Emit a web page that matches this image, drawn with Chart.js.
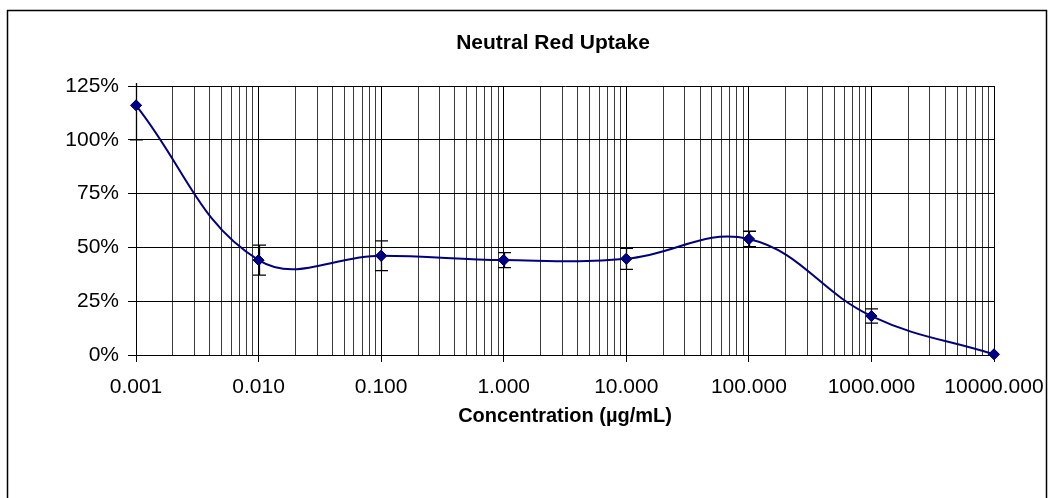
<!DOCTYPE html>
<html>
<head>
<meta charset="utf-8">
<script src="https://cdn.jsdelivr.net/npm/chart.js@4.4.0/dist/chart.umd.min.js"></script>
<style>
  body { margin: 0; background: #ffffff; }
  #wrap { width: 1050px; height: 498px; }
</style>
</head>
<body>
<div id="wrap"><canvas id="nru_chart" width="1050" height="498"></canvas></div>
<script>
// chart data
var chart_title = "Neutral Red Uptake";
var x_axis_title = "Concentration (\u00b5g/mL)";
var concentrations = [0.001, 0.01, 0.1, 1, 10, 100, 1000, 10000];
var uptake_percent = [116, 44.1, 46.1, 44.1, 44.7, 53.9, 18.1, 0.3];
var error_percent = [16, 7, 6.9, 3.5, 4.9, 3.6, 3.3, 0];
var x_major_ticks = [0.001, 0.01, 0.1, 1, 10, 100, 1000, 10000];
var x_tick_labels = ["0.001", "0.010", "0.100", "1.000", "10.000", "100.000", "1000.000", "10000.000"];
var y_ticks = [0, 25, 50, 75, 100, 125];

var font_family = "Arial, 'Liberation Sans', sans-serif";

function is_major(v) {
  for (var i = 0; i < x_major_ticks.length; i++) {
    if (Math.abs(v - x_major_ticks[i]) / x_major_ticks[i] < 1e-6) return i;
  }
  return -1;
}

// minor grid positions: 2..9 times each decade
function build_x_ticks() {
  var out = [];
  for (var i = 0; i < x_major_ticks.length; i++) {
    out.push({ value: x_major_ticks[i], major: true });
    if (i < x_major_ticks.length - 1) {
      for (var m = 2; m <= 9; m++) out.push({ value: x_major_ticks[i] * m, major: false });
    }
  }
  return out;
}

var point_data = concentrations.map(function (c, i) { return { x: c, y: uptake_percent[i] }; });

// frame + title
var frame_plugin = {
  id: 'frame_plugin',
  beforeDraw: function (chart) {
    var ctx = chart.ctx;
    ctx.save();
    ctx.fillStyle = '#ffffff';
    ctx.fillRect(0, 0, chart.width, chart.height);
    ctx.strokeStyle = '#000000';
    ctx.lineWidth = 1.5;
    ctx.strokeRect(7.5, 10.5, 1039, 520);
    ctx.fillStyle = '#000000';
    ctx.font = "bold 21px " + font_family;
    ctx.textAlign = 'center';
    ctx.textBaseline = 'middle';
    ctx.fillText(chart_title, 553, 43);
    ctx.restore();
  }
};

// error bars drawn through the scales
var error_bar_plugin = {
  id: 'error_bar_plugin',
  afterDatasetsDraw: function (chart) {
    var ctx = chart.ctx;
    var xs = chart.scales.x, ys = chart.scales.y;
    var area = chart.chartArea;
    ctx.save();
    ctx.beginPath();
    ctx.rect(area.left - 20, area.top - 3, area.right - area.left + 40, area.bottom - area.top + 6);
    ctx.clip();
    ctx.strokeStyle = '#000000';
    ctx.lineWidth = 1.3;
    for (var i = 0; i < concentrations.length; i++) {
      if (!error_percent[i]) continue;
      var px = Math.round(xs.getPixelForValue(concentrations[i])) + 0.5;
      var hi = uptake_percent[i] + error_percent[i];
      var lo = uptake_percent[i] - error_percent[i];
      var top = ys.getPixelForValue(hi);
      var bot = ys.getPixelForValue(lo);
      ctx.beginPath();
      ctx.moveTo(px, top);
      ctx.lineTo(px, bot);
      ctx.moveTo(px - 6.5, bot);
      ctx.lineTo(px + 6.5, bot);
      if (hi <= 125) {
        ctx.moveTo(px - 6.5, top);
        ctx.lineTo(px + 6.5, top);
      }
      ctx.stroke();
    }
    ctx.restore();
    // redraw markers on top of the bars
    var meta = chart.getDatasetMeta(0);
    meta.data.forEach(function (pt) { pt.draw(ctx, area); });
  }
};

new Chart(document.getElementById('nru_chart'), {
  type: 'line',
  data: {
    datasets: [{
      label: chart_title,
      data: point_data,
      borderColor: '#000080',
      backgroundColor: '#000080',
      borderWidth: 2,
      tension: 0.4,
      pointStyle: 'rectRot',
      pointRadius: 5.5,
      pointHoverRadius: 5.5,
      pointBackgroundColor: '#000080',
      pointBorderColor: '#000080',
      pointBorderWidth: 1
    }]
  },
  options: {
    responsive: false,
    animation: false,
    devicePixelRatio: 1,
    layout: { padding: { left: 0, right: 56, top: 86, bottom: 70 } },
    plugins: {
      legend: { display: false },
      title: { display: false },
      tooltip: { enabled: false }
    },
    scales: {
      x: {
        type: 'logarithmic',
        min: 0.001,
        max: 10000,
        afterBuildTicks: function (scale) { scale.ticks = build_x_ticks(); },
        afterFit: function (scale) {
          scale.height = 73;
          scale.paddingLeft = 0;
          scale.paddingRight = 0;
        },
        border: { display: true, color: '#000000', width: 1 },
        grid: {
          color: function (c) { return c.tick && c.tick.major ? '#000000' : '#3a3a3a'; },
          tickColor: function (c) { return c.tick && c.tick.major ? '#000000' : 'rgba(0,0,0,0)'; },
          tickLength: 7,
          lineWidth: 1
        },
        ticks: {
          autoSkip: false,
          maxRotation: 0,
          padding: 13,
          color: '#000000',
          font: { family: font_family, size: 21 },
          callback: function (v) {
            var k = is_major(v);
            return k >= 0 ? x_tick_labels[k] : '';
          }
        },
        title: {
          display: true,
          text: x_axis_title,
          color: '#000000',
          font: { family: font_family, size: 20, weight: 'bold' },
          padding: { top: 4, bottom: 0 }
        }
      },
      y: {
        min: 0,
        max: 125,
        afterBuildTicks: function (scale) {
          scale.ticks = y_ticks.map(function (v) { return { value: v }; });
        },
        afterFit: function (scale) { scale.width = 136; },
        border: { display: true, color: '#000000', width: 1 },
        grid: { color: '#000000', tickColor: '#000000', tickLength: 8, lineWidth: 1 },
        ticks: {
          padding: 9,
          color: '#000000',
          font: { family: font_family, size: 21 },
          callback: function (v) { return v + '%'; }
        }
      }
    }
  },
  plugins: [frame_plugin, error_bar_plugin]
});
</script>
</body>
</html>
